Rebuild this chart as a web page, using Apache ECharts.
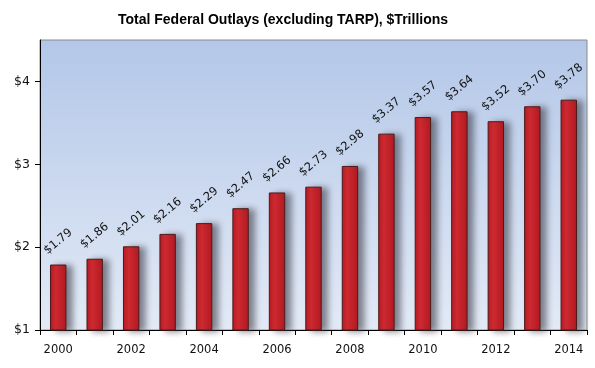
<!DOCTYPE html>
<html>
<head>
<meta charset="utf-8">
<script src="https://cdn.jsdelivr.net/npm/echarts@6/dist/echarts.min.js"></script>
<style>html,body{margin:0;padding:0;background:#fff;}#c{width:595px;height:368px;}</style>
</head>
<body>
<div id="c"></div>
<script>
const years = ['2000','2001','2002','2003','2004','2005','2006','2007','2008','2009','2010','2011','2012','2013','2014'];
const outlays = [1.79,1.86,2.01,2.16,2.29,2.47,2.66,2.73,2.98,3.37,3.57,3.64,3.52,3.70,3.78];
const yTicks = [1,2,3,4];

const chart = echarts.init(document.getElementById('c'), null, {renderer:'canvas'});
chart.setOption({
  animation:false,
  title:{
    text:'Total Federal Outlays (excluding TARP), $Trillions',
    left:278, top:8, textAlign:'center',
    textStyle:{fontFamily:'Liberation Sans, Arial', fontWeight:'bold', fontSize:14, color:'#000'}
  },
  grid:{
    left:40, right:8, top:40, bottom:38,
    show:true,
    borderColor:'#8a8a8a', borderWidth:1,
    backgroundColor:new echarts.graphic.LinearGradient(0,0,0,1,[
      {offset:0,color:'#b3c7e8'},
      {offset:1,color:'#e3eaf6'}
    ])
  },
  xAxis:{
    type:'category', data:years,
    boundaryGap:true,
    axisLine:{lineStyle:{color:'#000',width:1}},
    axisTick:{show:true, interval:0, length:5, lineStyle:{color:'#000'}},
    axisLabel:{interval:1, color:'#111', fontFamily:'DejaVu Sans, Verdana', fontSize:11.5, margin:14},
    splitLine:{show:false}
  },
  yAxis:{
    type:'value', min:1, max:4.5, interval:1,
    axisLine:{show:true, lineStyle:{color:'#000',width:1}},
    axisTick:{show:true, length:5, customValues:yTicks, lineStyle:{color:'#000'}},
    axisLabel:{color:'#111', fontFamily:'DejaVu Sans, Verdana', fontSize:12.5, margin:10,
      customValues:yTicks,
      formatter:function(v){ return '$'+v; }},
    splitLine:{show:false}
  },
  series:[{
    type:'bar',
    data:outlays,
    barWidth:'45%',
    itemStyle:{
      color:new echarts.graphic.LinearGradient(0,0,1,0,[
        {offset:0,color:'#b51b23'},
        {offset:0.35,color:'#da282f'},
        {offset:1,color:'#b01a22'}
      ]),
      borderColor:'#4a1a1a', borderWidth:1,
      shadowColor:'rgba(60,60,70,0.6)', shadowBlur:6, shadowOffsetX:6, shadowOffsetY:1
    },
    label:{
      show:true, position:'top', rotate:40, distance:23,
      align:'center', verticalAlign:'middle',
      formatter:function(p){ return '$'+p.value.toFixed(2); },
      fontFamily:'DejaVu Sans, Verdana', fontSize:11.5, color:'#111'
    }
  }]
});
</script>
</body>
</html>
